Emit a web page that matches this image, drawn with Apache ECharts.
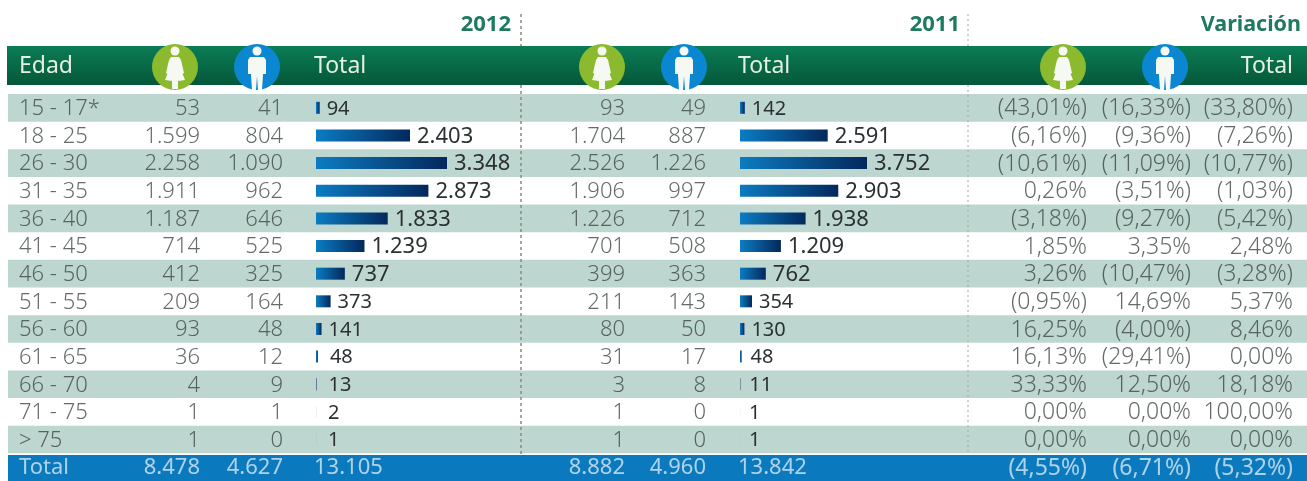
<!DOCTYPE html>
<html>
<head>
<meta charset="utf-8">
<style>html,body{margin:0;padding:0;background:#fff}#container{width:1307px;height:481px}</style>
<script src="https://cdn.jsdelivr.net/npm/echarts@6/dist/echarts.min.js"></script>
</head>
<body>
<div id="container"></div>
<script>
var ages = ['15 - 17*','18 - 25','26 - 30','31 - 35','36 - 40','41 - 45','46 - 50','51 - 55','56 - 60','61 - 65','66 - 70','71 - 75','> 75','Total'];

var women2012 = ['53','1.599','2.258','1.911','1.187','714','412','209','93','36','4','1','1','8.478'];
var men2012 = ['41','804','1.090','962','646','525','325','164','48','12','9','1','0','4.627'];
var total2012 = [94,2403,3348,2873,1833,1239,737,373,141,48,13,2,1];

var women2011 = ['93','1.704','2.526','1.906','1.226','701','399','211','80','31','3','1','1','8.882'];
var men2011 = ['49','887','1.226','997','712','508','363','143','50','17','8','0','0','4.960'];
var total2011 = [142,2591,3752,2903,1938,1209,762,354,130,48,11,1,1];

var varWomen = ['(43,01%)','(6,16%)','(10,61%)','0,26%','(3,18%)','1,85%','3,26%','(0,95%)','16,25%','16,13%','33,33%','0,00%','0,00%','(4,55%)'];
var varMen = ['(16,33%)','(9,36%)','(11,09%)','(3,51%)','(9,27%)','3,35%','(10,47%)','14,69%','(4,00%)','(29,41%)','12,50%','0,00%','0,00%','(6,71%)'];
var varTotal = ['(33,80%)','(7,26%)','(10,77%)','(1,03%)','(5,42%)','2,48%','(3,28%)','5,37%','8,46%','0,00%','18,18%','100,00%','0,00%','(5,32%)'];

var grandTotals = ['13.105','13.842'];

var FONT = '"Noto Sans", sans-serif';
var ROW_H = 27.7, ROWS_TOP = 94;
var TOTAL_ROW = ages.length - 1;

var dom = document.getElementById('container');
var myChart = echarts.init(dom, null, {renderer: 'canvas'});

function fmt(v) {
    return String(v).replace(/\B(?=(\d{3})+$)/g, '.');
}

// one text column of the table, placed on the shared row axis
function column(x, texts, align, size) {
    return {
        type: 'scatter',
        xAxisIndex: 0, yAxisIndex: 0,
        symbolSize: 0,
        silent: true,
        z: 5,
        data: texts.map(function (t, i) {
            return {
                value: [x, i],
                name: t,
                label: i === TOTAL_ROW
                    ? {color: '#d8e9f4', fontWeight: 400}
                    : {color: '#3d4644'}
            };
        }),
        label: {
            show: true,
            position: 'inside',
            align: align,
            verticalAlign: 'middle',
            offset: [0, 1],
            fontFamily: FONT,
            fontWeight: 300,
            fontSize: size || 22,
            formatter: function (p) { return p.name; }
        }
    };
}

function bars(gridIdx, values, smallGap) {
    return {
        type: 'bar',
        xAxisIndex: gridIdx, yAxisIndex: gridIdx,
        barWidth: 12,
        silent: true,
        z: 4,
        data: values.map(function (v) {
            return {
                value: v,
                label: {fontSize: v < 400 ? 20 : 22, distance: v < 60 ? smallGap : 7}
            };
        }),
        itemStyle: {
            color: new echarts.graphic.LinearGradient(0, 0, 1, 0, [
                {offset: 0, color: '#0b7cc2'},
                {offset: 1, color: '#04285c'}
            ])
        },
        label: {
            show: true,
            position: 'right',
            offset: [0, 1],
            fontFamily: FONT,
            fontWeight: 400,
            color: '#2b3133',
            formatter: function (p) { return fmt(p.value); }
        }
    };
}

function rowAxis(gridIdx, bands) {
    return {
        type: 'category',
        gridIndex: gridIdx,
        inverse: true,
        data: ages,
        axisLine: {show: false},
        axisTick: {show: false},
        axisLabel: {show: false},
        splitLine: {show: false},
        splitArea: bands ? {show: true, areaStyle: {color: ['#bdd6d0', 'rgba(255,255,255,0)']}} : {show: false}
    };
}

function valueAxis(gridIdx, min, max) {
    return {
        type: 'value',
        gridIndex: gridIdx,
        min: min, max: max,
        show: false
    };
}

function icon(cx, cy, color, woman) {
    var body = woman
        ? [[-4,-10],[4,-10],[6,-7],[9,6],[7,7],[5,0],[10,13],[3,14],[3,22],[-3,22],[-3,14],[-10,13],[-5,0],[-7,7],[-9,6],[-6,-7]]
        : [[-7,-10],[7,-10],[9,-7],[9,7],[6,7],[6,-3],[6,8],[5,23],[1,23],[0,9],[-1,23],[-5,23],[-6,8],[-6,-3],[-6,7],[-9,7],[-9,-7]];
    return {
        type: 'group',
        x: cx, y: cy,
        z: 3,
        children: [
            {type: 'circle', shape: {r: 23}, style: {fill: color}},
            {type: 'circle', shape: {cx: 0, cy: -16, r: 4.5}, style: {fill: '#f6f9f3'}},
            {type: 'polygon', shape: {points: body}, style: {fill: '#f6f9f3'}}
        ]
    };
}

function headText(x, text, align, color, size, weight) {
    return {
        type: 'text', x: x, y: weight ? 25 : 66,
        style: {
            text: text, fill: color, align: align, verticalAlign: 'middle',
            font: (weight || 'normal') + ' ' + size + 'px ' + FONT
        }
    };
}

function dashes(x, color, top, bottom, dash, width) {
    return {
        type: 'line',
        z: 10,
        shape: {x1: x, y1: top, x2: x, y2: bottom},
        style: {stroke: color, lineWidth: width, lineDash: dash}
    };
}

var graphics = [
    {
        type: 'rect', z: -1,
        shape: {x: 7, y: 46, width: 1300, height: 39},
        style: {
            fill: new echarts.graphic.LinearGradient(0, 0, 0, 1, [
                {offset: 0, color: '#0b7d55'},
                {offset: 1, color: '#05573a'}
            ])
        }
    },
    {
        type: 'rect', z: -1,
        shape: {x: 8, y: ROWS_TOP + ROW_H * TOTAL_ROW + 1, width: 1299, height: 27},
        style: {fill: '#0a79bd'}
    },
    dashes(521, '#8d8a7c', 14, 46, [3, 3], 1.5),
    dashes(521, '#8d8a7c', 85, 455, [3, 3], 1.5),
    dashes(968, '#a9a6a0', 14, 46, [2, 3], 1),
    dashes(968, '#a9a6a0', 85, 455, [2, 3], 1),
    headText(19, 'Edad', 'left', '#e6efe2', 23),
    headText(314, 'Total', 'left', '#e6efe2', 23),
    headText(738, 'Total', 'left', '#e6efe2', 23),
    headText(1293, 'Total', 'right', '#e6efe2', 23),
    headText(511, '2012', 'right', '#1f7a60', 22, 'bold'),
    headText(960, '2011', 'right', '#1f7a60', 22, 'bold'),
    headText(1301, 'Variación', 'right', '#1f7a60', 21.5, 'bold'),
    icon(175, 67, '#8cba2e', true),
    icon(257, 67, '#0b87d2', false),
    icon(602, 67, '#8cba2e', true),
    icon(684, 67, '#0b87d2', false),
    icon(1063, 67, '#8cba2e', true),
    icon(1165, 67, '#0b87d2', false)
];

var blankTotals = ages.map(function (a, i) { return i === TOTAL_ROW ? grandTotals[0] : ''; });
var blankTotals11 = ages.map(function (a, i) { return i === TOTAL_ROW ? grandTotals[1] : ''; });

var option = {
    animation: false,
    backgroundColor: '#fff',
    graphic: {elements: graphics},
    grid: [
        {left: 8, top: ROWS_TOP, width: 1299, height: ROW_H * ages.length},
        {left: 316, top: ROWS_TOP, width: 131, height: ROW_H * ages.length},
        {left: 740, top: ROWS_TOP, width: 127, height: ROW_H * ages.length}
    ],
    xAxis: [
        valueAxis(0, 8, 1307),
        valueAxis(1, 0, 3348),
        valueAxis(2, 0, 3752)
    ],
    yAxis: [rowAxis(0, true), rowAxis(1, false), rowAxis(2, false)],
    series: [
        column(19, ages, 'left'),
        column(200, women2012, 'right'),
        column(283, men2012, 'right'),
        column(314, blankTotals, 'left'),
        column(625, women2011, 'right'),
        column(706, men2011, 'right'),
        column(738, blankTotals11, 'left'),
        column(1087, varWomen, 'right', 23),
        column(1191, varMen, 'right', 23),
        column(1293, varTotal, 'right', 23),
        bars(1, total2012, 12),
        bars(2, total2011, 9)
    ]
};

myChart.setOption(option);
</script>
</body>
</html>
